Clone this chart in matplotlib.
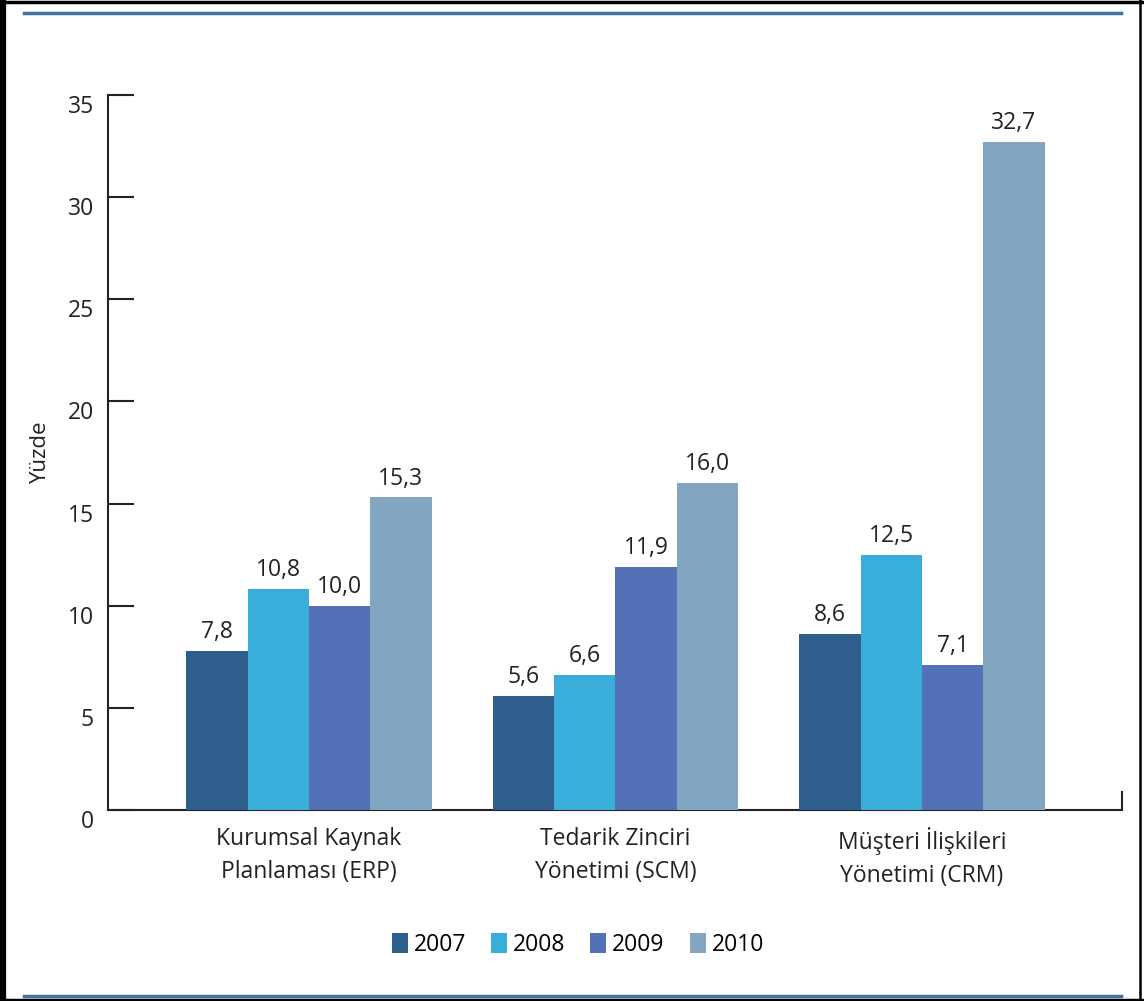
import matplotlib
matplotlib.use("Agg")
import matplotlib.pyplot as plt
from matplotlib.lines import Line2D
import numpy as np

plt.rcParams['font.family'] = ['Open Sans', 'DejaVu Sans']

# --- Data ---
categories = ["Kurumsal Kaynak\nPlanlaması (ERP)",
              "Tedarik Zinciri\nYönetimi (SCM)",
              "Müşteri İlişkileri\nYönetimi (CRM)"]
years = ["2007", "2008", "2009", "2010"]
v2007 = [7.8, 5.6, 8.6]
v2008 = [10.8, 6.6, 12.5]
v2009 = [10.0, 11.9, 7.1]
v2010 = [15.3, 16.0, 32.7]
series = [v2007, v2008, v2009, v2010]
colors = ["#2E5F8C", "#3AAEDB", "#5271B6", "#82A5C2"]
y_ticks = [0, 5, 10, 15, 20, 25, 30, 35]

fig = plt.figure(figsize=(11.44, 10.01), dpi=100)
ax = fig.add_axes([0.0944, 0.1908, 0.8864, 0.7143])

x = np.arange(len(categories))
width = 0.2
for i, (yr, vals) in enumerate(zip(years, series)):
    bars = ax.bar(x + (i - 1.5) * width, vals, width, color=colors[i],
                  label=yr, zorder=3, clip_on=False)
    ax.bar_label(bars, labels=[f"{v:.1f}".replace('.', ',') for v in vals],
                 padding=5, fontsize=16.5, color='#222222')

ax.set_xlim(-0.656, 2.653)
ax.set_ylim(0, 35)

for s in ['top', 'right']:
    ax.spines[s].set_visible(False)
for s in ['left', 'bottom']:
    ax.spines[s].set_linewidth(1.5)
    ax.spines[s].set_color('#222222')

ax.set_yticks(y_ticks)
ax.set_yticklabels([str(t) for t in y_ticks])
ax.tick_params(axis='y', direction='in', length=19, width=1.5, pad=10,
               labelsize=16.5, colors='#222222')
for lbl in ax.get_yticklabels():
    lbl.set_verticalalignment('top')

ax.set_xticks(x)
ax.set_xticklabels(categories)
ax.tick_params(axis='x', length=0, pad=12, labelsize=16.5, colors='#222222')
for lbl in ax.get_xticklabels():
    lbl.set_linespacing(1.5)
ax.set_xticks([2.653], minor=True)
ax.tick_params(axis='x', which='minor', direction='in', length=14, width=1.5,
               colors='#222222')

ax.set_ylabel("Yüzde", fontsize=16, color='#222222', labelpad=12)

ax.legend(loc='center', bbox_to_anchor=(0.505, 1 - 945 / 1001), bbox_transform=fig.transFigure,
          ncol=4, frameon=False, fontsize=16.5, handlelength=0.7, handleheight=1.0,
          handletextpad=0.25, columnspacing=1.1)

# decorative blue rules
for yy in [13, 996]:
    fig.add_artist(Line2D([24 / 1144, 1121 / 1144], [1 - yy / 1001] * 2,
                          color='#4472A0', linewidth=2.5, transform=fig.transFigure))

# black frame
fig.add_artist(Line2D([3 / 1144] * 2, [0, 1], color='black', linewidth=4.5, transform=fig.transFigure))
fig.add_artist(Line2D([1140 / 1144] * 2, [0, 1], color='black', linewidth=1.8, transform=fig.transFigure))
fig.add_artist(Line2D([0, 1], [1 - 1.5 / 1001] * 2, color='black', linewidth=2.5, transform=fig.transFigure))
fig.add_artist(Line2D([0, 1], [1.5 / 1001] * 2, color='black', linewidth=2.5, transform=fig.transFigure))

fig.savefig("out.png", dpi=100)
